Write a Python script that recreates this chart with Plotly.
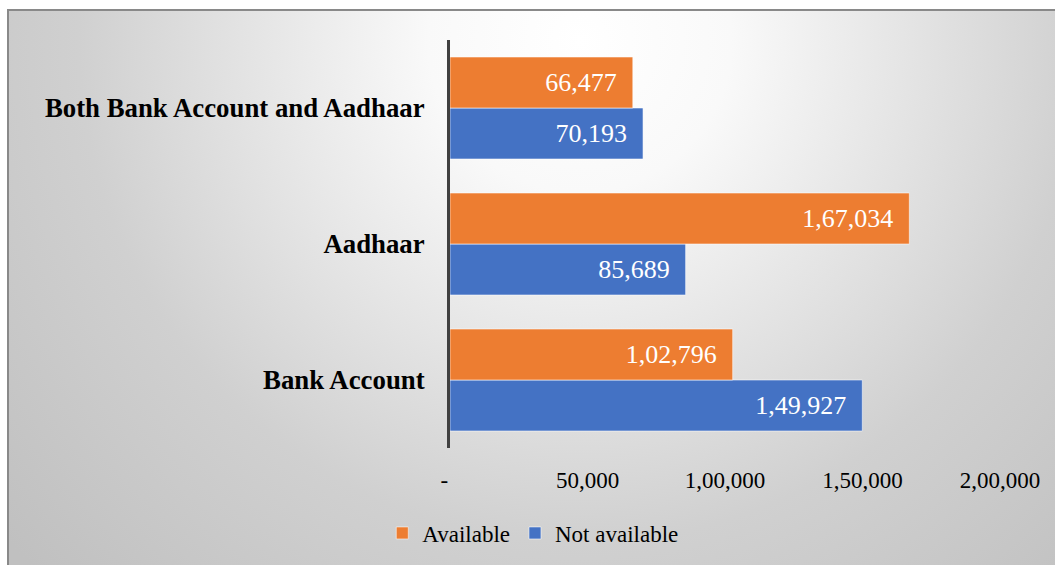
import base64
import plotly.graph_objects as go

# ---- data ----
categories = ["Bank Account", "Aadhaar", "Both Bank Account and Aadhaar"]
available = [102796, 167034, 66477]
not_available = [149927, 85689, 70193]
tick_vals = [0, 50000, 100000, 150000, 200000]
tick_text = ["-\u00a0\u00a0", "50,000", "1,00,000", "1,50,000", "2,00,000"]


def indian(n):
    s = str(int(n))
    if len(s) <= 3:
        return s
    last3, rest = s[-3:], s[:-3]
    groups = []
    while len(rest) > 2:
        groups.insert(0, rest[-2:])
        rest = rest[:-2]
    if rest:
        groups.insert(0, rest)
    return ",".join(groups) + "," + last3


PAD = "\u00a0\u00a0"
FONT = "Liberation Serif"
ORANGE = "#ED7D31"
BLUE = "#4472C4"

W, H = 1055, 565
ML, MR, MT, MB = 450, 55, 40, 117
PW, PH = W - ML - MR, H - MT - MB


def px2paper_x(px):
    return (px - ML) / PW


def px2paper_y(py):
    return (H - MB - py) / PH


# background gradient (frame starts at x=8, y=10)
fx0, fy0, fx1, fy1 = 8, 10, 1062, 572
gw, gh = fx1 - fx0, fy1 - fy0
svg = f'''<svg xmlns="http://www.w3.org/2000/svg" width="{gw}" height="{gh}" viewBox="0 0 {gw} {gh}" preserveAspectRatio="none">
<defs><radialGradient id="g" gradientUnits="userSpaceOnUse" cx="{580-fx0}" cy="{40-fy0}" r="760">
<stop offset="0" stop-color="#ffffff"/>
<stop offset="0.2" stop-color="#f9f9f9"/>
<stop offset="0.66" stop-color="#d0d0d0"/>
<stop offset="1" stop-color="#c0c0c0"/>
</radialGradient></defs>
<rect x="0" y="0" width="{gw}" height="{gh}" fill="url(#g)"/>
</svg>'''
src = "data:image/svg+xml;base64," + base64.b64encode(svg.encode()).decode()

fig = go.Figure()
fig.add_trace(go.Bar(
    name="Not available", y=categories, x=not_available, orientation="h",
    marker=dict(color=BLUE, line=dict(color="rgba(255,255,255,0.55)", width=1)),
    text=[indian(v) + PAD for v in not_available],
    textposition="inside", insidetextanchor="end", textangle=0,
    insidetextfont=dict(family=FONT, size=26, color="white"),
    hoverinfo="x+y",
))
fig.add_trace(go.Bar(
    name="Available", y=categories, x=available, orientation="h",
    marker=dict(color=ORANGE, line=dict(color="rgba(255,255,255,0.55)", width=1)),
    text=[indian(v) + PAD for v in available],
    textposition="inside", insidetextanchor="end", textangle=0,
    insidetextfont=dict(family=FONT, size=26, color="white"),
    hoverinfo="x+y",
))

fig.add_layout_image(dict(
    source=src, xref="paper", yref="paper",
    x=px2paper_x(fx0), y=px2paper_y(fy0),
    sizex=gw / PW, sizey=gh / PH,
    xanchor="left", yanchor="top", sizing="stretch", layer="below",
))

# chart frame
fig.add_shape(type="rect", xref="paper", yref="paper",
              x0=px2paper_x(fx0), y0=px2paper_y(fy1), x1=px2paper_x(fx1), y1=px2paper_y(fy0),
              line=dict(color="#898989", width=2), fillcolor="rgba(0,0,0,0)", layer="below")

fig.update_layout(
    width=W, height=H,
    margin=dict(l=ML, r=MR, t=MT, b=MB, autoexpand=False),
    paper_bgcolor="white", plot_bgcolor="rgba(0,0,0,0)",
    barmode="group", bargap=0.25, bargroupgap=0.0,
    font=dict(family=FONT, color="black"),
    showlegend=True,
    legend=dict(orientation="h", traceorder="reversed",
                xref="container", yref="container",
                x=0.505, xanchor="center", y=1 - 533 / H, yanchor="middle",
                font=dict(family=FONT, size=23, color="black"),
                bgcolor="rgba(0,0,0,0)", itemclick=False),
    xaxis=dict(range=[0, 200000], tickvals=tick_vals, ticktext=tick_text,
               showgrid=False, zeroline=False, showline=False,
               ticks="", ticklabelstandoff=16,
               tickfont=dict(family=FONT, size=23, color="black"),
               fixedrange=True),
    yaxis=dict(showgrid=False, zeroline=False, showline=True,
               linecolor="#404040", linewidth=3,
               ticks="outside", ticklen=17, tickcolor="rgba(0,0,0,0)",
               tickfont=dict(family=FONT, size=26.8, color="black", weight="bold"),
               range=[-0.5, 2.5], fixedrange=True),
)

fig.write_html("out.html")
